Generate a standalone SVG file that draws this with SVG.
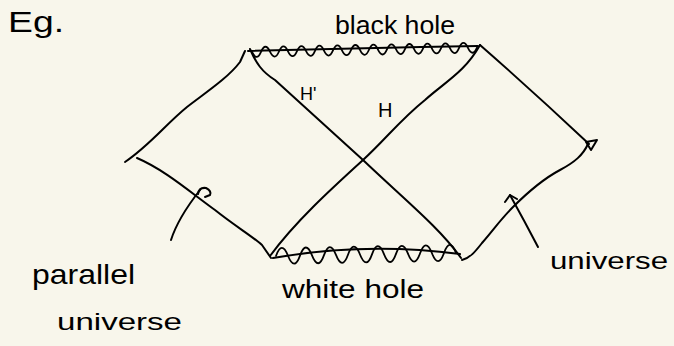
<svg xmlns="http://www.w3.org/2000/svg" width="674" height="346" viewBox="0 0 674 346">
<style>
.s{fill:none;stroke:#000;stroke-width:2;stroke-linecap:round;stroke-linejoin:round}
.w{fill:none;stroke:#000;stroke-width:1.8;stroke-linecap:round}
text{font-family:"Liberation Sans","DejaVu Sans",sans-serif;fill:#000}
</style>
<rect width="674" height="346" fill="#f8f6eb"/>
<g id="connectors">
<path class="s" d="M125,162 C150,145 165,125 187,107 C205,93 228,78 240,62 L245,51"/>
<path class="s" d="M137,158 C165,170 190,192 215,210 C235,226 252,236 262,245 L271,258"/>
<path class="s" d="M250,49 C256,63 262,72 275,80 L363,160 C405,200 440,228 461,258"/>
<path class="s" d="M270,256 C295,222 330,190 363,160 C385,140 400,120 425,100 C445,82 465,72 480,45"/>
<path class="s" d="M480,45 C520,80 555,112 589,144"/>
<path class="s" d="M462,260 C470,258 475,252 482,243 C495,228 500,220 513,207 C530,190 545,178 560,170 C575,162 583,155 588,144"/>
<path class="s" d="M586,142 L597,140 L591,150 Z"/>
<path class="s" d="M248,51 Q360,48 478,46"/>
<path class="w" d="M252,52 q4.5,10 9,0 t9,0 t9,0 t9,0 t9,0 t9,0 t9,0 t9,0 t9,0 t9,0 t9,0 t9,0 t9,0 t9,0 t9,0 t9,0 t9,0 t9,0 t9,0 t9,0 t9,0 t9,0 t9,0 t9,0 t9,0" transform="rotate(-1.1 252 52)"/>
<path class="s" d="M273,258 Q365,242 460,254"/>
<path class="w" d="M276,256 q6,-16 12,0 t12,0 t12,0 t12,0 t12,0 t12,0 t12,0 t12,0 t12,0 t12,0 t12,0 t12,0 t12,0 t12,0 t12,0" transform="rotate(-1 276 256)"/>
<path class="s" d="M171,240 Q178,218 200,190"/>
<path class="s" d="M198,194 Q199,187 206,188 Q212,191 210,195 L205,197"/>
<path class="s" d="M538,247 Q525,222 510,195"/>
<path class="s" d="M505,202 L510,195 L517,199"/>
</g>
<g id="labels">
<text x="8" y="32" font-size="30" textLength="56" lengthAdjust="spacingAndGlyphs">Eg.</text>
<text x="335" y="34" font-size="26" textLength="120" lengthAdjust="spacingAndGlyphs">black hole</text>
<text x="282" y="298" font-size="26" textLength="142" lengthAdjust="spacingAndGlyphs">white hole</text>
<text x="300" y="100" font-size="18">H'</text>
<text x="378" y="117" font-size="20">H</text>
<text x="32" y="284" font-size="28" textLength="103" lengthAdjust="spacingAndGlyphs">parallel</text>
<text x="57" y="330" font-size="24" textLength="125" lengthAdjust="spacingAndGlyphs">universe</text>
<text x="550" y="269" font-size="24" textLength="118" lengthAdjust="spacingAndGlyphs">universe</text>
</g>
</svg>
